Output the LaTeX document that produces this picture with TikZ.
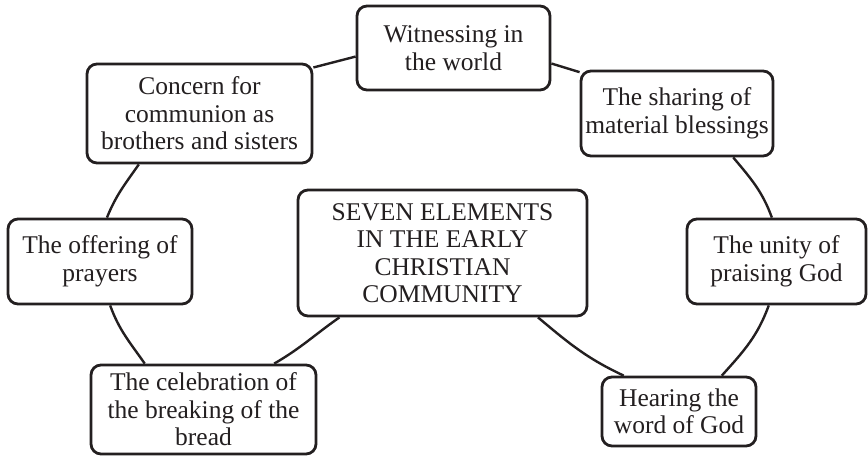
\documentclass[tikz,border=0pt]{standalone}
\usepackage{fontspec}
\setmainfont{Liberation Serif}
\definecolor{ink}{HTML}{231F20}
\begin{document}
\begin{tikzpicture}[x=1pt,y=1pt,
  box/.style={draw=ink, line width=2.8pt, rounded corners=10pt, fill=white,
    align=center, inner sep=2pt, text=ink,
    font=\fontsize{25.5}{27.5}\selectfont},
  link/.style={draw=ink, line width=2.4pt}]
\useasboundingbox (0,0) rectangle (868,-457);
\node[box, minimum width=193pt, minimum height=84pt] (witness) at (453.5,-48) {Witnessing in\\the world};
\node[box, minimum width=192pt, minimum height=85pt] (sharing) at (677,-113.5) {The sharing of\\material blessings};
\node[box, minimum width=179pt, minimum height=85pt] (unity) at (776.5,-261.5) {The unity of\\praising God};
\node[box, minimum width=154pt, minimum height=69pt] (hearing) at (679,-411.5) {Hearing the\\word of God};
\node[box, minimum width=289pt, minimum height=126pt] (center) at (442.5,-253) {SEVEN ELEMENTS\\IN THE EARLY\\CHRISTIAN\\COMMUNITY};
\node[box, minimum width=225pt, minimum height=89pt] (celeb) at (203.5,-409.5) {The celebration of\\the breaking of the\\bread};
\node[box, minimum width=184pt, minimum height=85pt] (offer) at (100,-261.5) {The offering of\\prayers};
\node[box, minimum width=225pt, minimum height=99pt] (concern) at (199.5,-113.5) {Concern for\\communion as\\brothers and sisters};
\draw[link] (concern.22) -- (witness.185);
\draw[link] (witness.-9) -- (sharing.157);
\draw[link] (sharing.-38) to[out=-50,in=110] (unity.96);
\draw[link] (unity.260) to[out=250,in=48] (hearing.40);
\draw[link] (center.-34) to[out=-40,in=155] (hearing.147);
\draw[link] (center.212) to[out=215,in=30] (celeb.33);
\draw[link] (offer.-77) to[out=-70,in=125] (celeb.142);
\draw[link] (concern.220) to[out=235,in=68] (offer.81);
\end{tikzpicture}
\end{document}
